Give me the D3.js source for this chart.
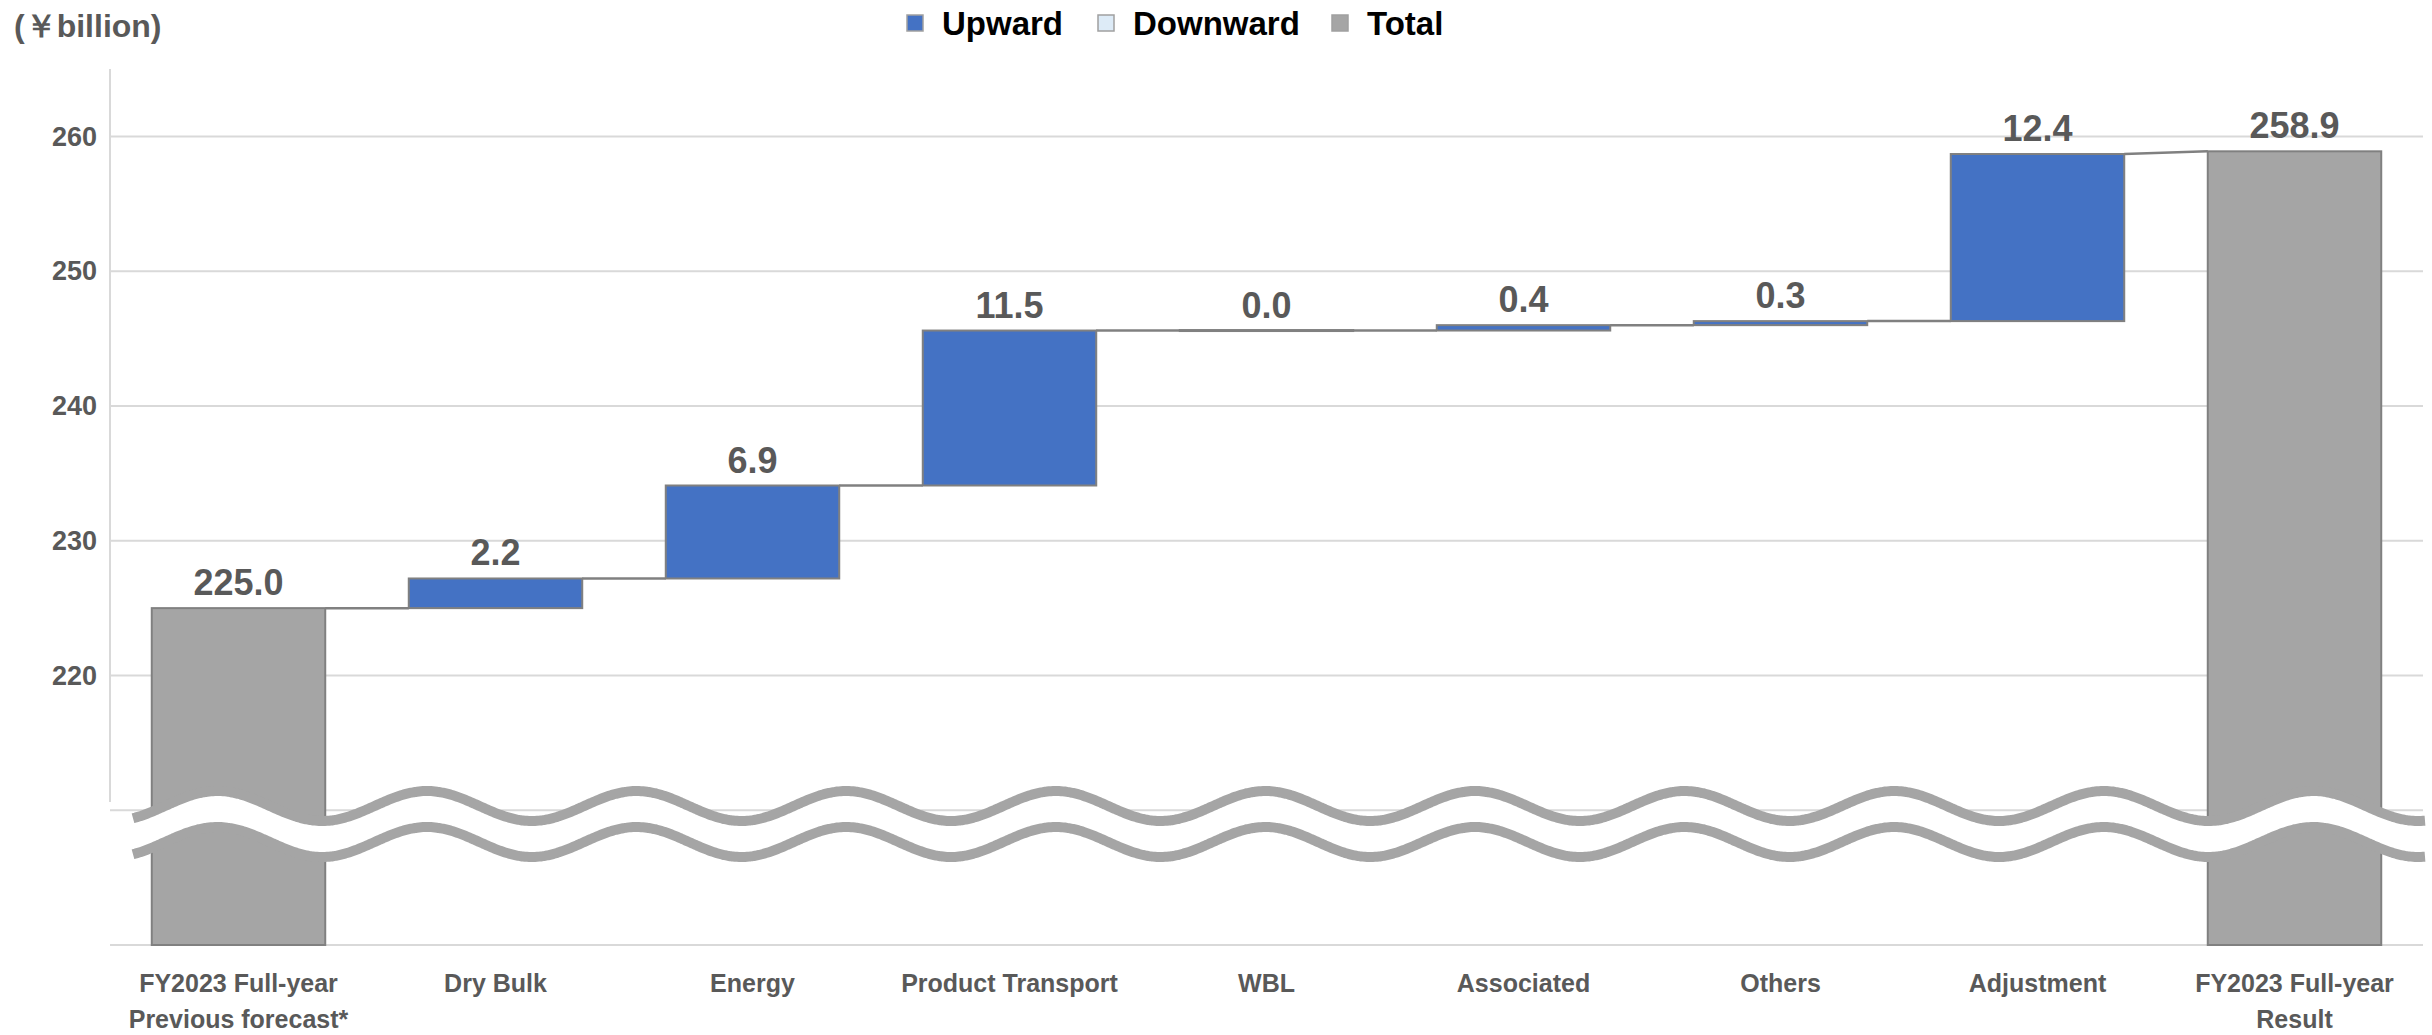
<!DOCTYPE html>
<html>
<head>
<meta charset="utf-8">
<script src="https://cdn.jsdelivr.net/npm/d3@7"></script>
<style>
  html, body { margin: 0; padding: 0; background: #fff; }
  svg { display: block; }
</style>
</head>
<body>
<svg id="chart" width="2432" height="1035"></svg>
<script>
// ---- data ----
const categories = [
  ["FY2023 Full-year", "Previous forecast*"],
  ["Dry Bulk"],
  ["Energy"],
  ["Product Transport"],
  ["WBL"],
  ["Associated"],
  ["Others"],
  ["Adjustment"],
  ["FY2023 Full-year", "Result"]
];
const values = [225.0, 2.2, 6.9, 11.5, 0.0, 0.4, 0.3, 12.4, 258.9];
const kinds = ["total", "up", "up", "up", "up", "up", "up", "up", "total"];
const yTickLabels = [220, 230, 240, 250, 260];
const gridValues = [200, 210, 220, 230, 240, 250, 260];
const legendItems = [
  { label: "Upward", kind: "up" },
  { label: "Downward", kind: "down" },
  { label: "Total", kind: "total" }
];
const unitLabel = "(￥billion)";

// ---- layout ----
const svg = d3.select("#chart");
const plotLeft = 110, plotRight = 2423;
const yDomain = [200, 260];
const x = d3.scaleBand()
  .domain(d3.range(categories.length))
  .range([plotLeft, plotRight])
  .paddingInner(0.325)
  .paddingOuter(0.1625);
const y = d3.scaleLinear().domain(yDomain).range([945, 136.5]);

const fills = { up: "#4472C4", down: "#DDEBF7", total: "#A5A5A5" };
const textGray = "#595959";
const font = "'Liberation Sans', Arial, sans-serif";

// compute waterfall segments
let running = 0;
const bars = values.map((v, i) => {
  let start, end;
  if (kinds[i] === "total") {
    start = yDomain[0]; end = v; running = v;
  } else {
    start = running; end = running + v; running = end;
  }
  return { i, v, kind: kinds[i], start, end,
           lo: Math.min(start, end), hi: Math.max(start, end),
           entry: kinds[i] === "total" ? v : start };
});

// gridlines
svg.append("g").selectAll("line").data(gridValues).join("line")
  .attr("x1", plotLeft).attr("x2", plotRight)
  .attr("y1", d => y(d)).attr("y2", d => y(d))
  .attr("stroke", "#D9D9D9").attr("stroke-width", 2);

// y axis (labels only), with axis line drawn manually
const yAxis = d3.axisLeft(y).tickValues(yTickLabels).tickSize(0).tickPadding(13).tickFormat(d3.format("d"));
const gy = svg.append("g").attr("transform", `translate(${plotLeft},0)`).call(yAxis);
gy.select(".domain").remove();
gy.selectAll("text").attr("font-family", font).attr("font-weight", "bold")
  .attr("font-size", 27).attr("fill", textGray);
svg.append("line").attr("x1", plotLeft).attr("x2", plotLeft)
  .attr("y1", 69).attr("y2", 802).attr("stroke", "#D9D9D9").attr("stroke-width", 2);

// bars
svg.append("g").selectAll("rect").data(bars).join("rect")
  .attr("x", d => x(d.i))
  .attr("width", x.bandwidth())
  .attr("y", d => y(d.hi) - (y(d.lo) - y(d.hi) < 1 ? 0.5 : 0))
  .attr("height", d => Math.max(1, y(d.lo) - y(d.hi)))
  .attr("fill", d => fills[d.kind])
  .attr("stroke", "#808080").attr("stroke-width", 2);

// connectors
const conns = bars.slice(0, -1).map((d, k) => ({ from: d, to: bars[k + 1] }));
svg.append("g").selectAll("line").data(conns).join("line")
  .attr("x1", d => x(d.from.i) + x.bandwidth())
  .attr("x2", d => x(d.to.i))
  .attr("y1", d => y(d.from.end))
  .attr("y2", d => y(d.to.entry))
  .attr("stroke", "#808080").attr("stroke-width", 2.5);

// wave break (decoration over the broken axis)
const waveX0 = 133, waveX1 = 2425, wavePeak = 427, wavePeriod = 209.6,
      waveMid = 806, waveAmp = 15, waveGap = 36;
const wavePts = d3.range(waveX0, waveX1 + 0.1, 2).map(px =>
  [px, waveMid - waveAmp * Math.cos(2 * Math.PI * (px - wavePeak) / wavePeriod)]);
const gWave = svg.append("g");
gWave.append("path")
  .attr("d", d3.area().x(d => d[0]).y0(d => d[1]).y1(d => d[1] + waveGap).curve(d3.curveBasis)(wavePts))
  .attr("fill", "#fff");
[0, waveGap].forEach(off => {
  gWave.append("path")
    .attr("d", d3.line().x(d => d[0]).y(d => d[1] + off).curve(d3.curveBasis)(wavePts))
    .attr("fill", "none").attr("stroke", "#A5A5A5").attr("stroke-width", 10)
    .attr("stroke-linecap", "butt");
});

// value labels
svg.append("g").selectAll("text").data(bars).join("text")
  .attr("x", d => x(d.i) + x.bandwidth() / 2)
  .attr("y", d => y(d.hi) - 13)
  .attr("text-anchor", "middle")
  .attr("font-family", font).attr("font-weight", "bold").attr("font-size", 36)
  .attr("fill", textGray)
  .text(d => d3.format(".1f")(d.v));

// x labels
const gx = svg.append("g");
categories.forEach((lines, i) => {
  const t = gx.append("text")
    .attr("x", x(i) + x.bandwidth() / 2)
    .attr("y", 992)
    .attr("text-anchor", "middle")
    .attr("font-family", font).attr("font-weight", "bold").attr("font-size", 25)
    .attr("fill", textGray);
  lines.forEach((ln, k) => {
    t.append("tspan").attr("x", x(i) + x.bandwidth() / 2).attr("dy", k === 0 ? 0 : 36).text(ln);
  });
});

// unit label
svg.append("text").attr("x", 14).attr("y", 37)
  .attr("font-family", font).attr("font-weight", "bold").attr("font-size", 32)
  .attr("fill", textGray).text(unitLabel);

// legend
const legendX = [907, 1098, 1332];
const lg = svg.append("g");
legendItems.forEach((it, k) => {
  lg.append("rect").attr("x", legendX[k]).attr("y", 15).attr("width", 16).attr("height", 16)
    .attr("fill", fills[it.kind]).attr("stroke", "#A0A0A0").attr("stroke-width", 1.5);
  lg.append("text").attr("x", legendX[k] + 35).attr("y", 35)
    .attr("font-family", font).attr("font-weight", "bold").attr("font-size", 33)
    .attr("fill", "#000").text(it.label);
});
</script>
</body>
</html>
